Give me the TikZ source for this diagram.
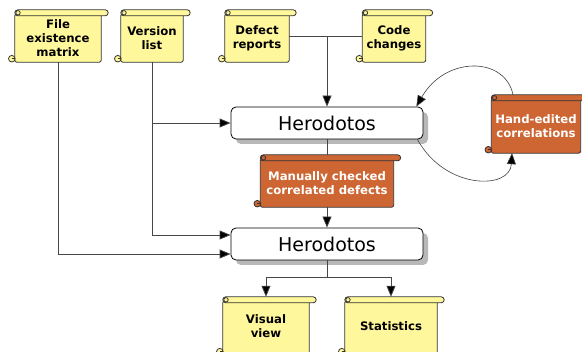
\documentclass[tikz,border=0pt]{standalone}
\usepackage{fontspec}
\setmainfont{DejaVu Sans}
\usetikzlibrary{arrows.meta,shadows,calc}
\definecolor{scrollyellow}{RGB}{255,247,155}
\definecolor{scrollorange}{RGB}{205,102,51}
\definecolor{linegray}{RGB}{70,70,70}
\tikzset{
  lbl/.style={inner sep=0pt, align=center, font=\fontsize{11.7}{13.8}\selectfont\bfseries},
  whitelbl/.style={lbl, text=white},
  scrollline/.style={draw=black!80, line width=0.8pt},
  herobox/.style={draw=black, line width=0.8pt, fill=white, rounded corners=5pt,
    minimum width=192pt, minimum height=32pt, inner sep=0pt,
    font=\fontsize{19}{21}\selectfont,
    general shadow={fill=black!28, shadow xshift=5pt, shadow yshift=-5pt}},
  conn/.style={draw=linegray, line width=0.8pt},
  arr/.style={conn, -{Triangle[length=11pt,width=9pt,fill=black]}},
}
\newcommand\scrolldeco[2]{%
  \draw[scrollline, fill=#2, rounded corners=2pt]
    ([yshift=-4pt]#1.north west) rectangle (#1.south east);
  \draw[scrollline, fill=#2, rounded corners=3pt]
    (#1.north west) rectangle ([xshift=7pt,yshift=-6pt]#1.north east);
  \draw[scrollline, fill=#2] ([xshift=3.2pt,yshift=-3pt]#1.north west) circle (2.2pt);
  \draw[scrollline, fill=#2] ([xshift=-3pt,yshift=3.5pt]#1.south west) circle (3.3pt);
  \draw[scrollline] ([xshift=-3pt,yshift=3.5pt]#1.south west) -- ([xshift=0.5pt,yshift=3.5pt]#1.south west);
}
\begin{document}
\begin{tikzpicture}[x=1pt,y=-1pt]
\useasboundingbox (0,0) rectangle (582,352);
% scroll nodes (text only, shapes drawn by \scrolldeco)
\node[lbl, minimum width=86pt, minimum height=52pt] (fem) at (58,36) {};
\node[lbl, minimum width=62pt, minimum height=52pt] (vl) at (152,36) {};
\node[lbl, minimum width=64pt, minimum height=52pt] (dr) at (257,36) {};
\node[lbl, minimum width=63pt, minimum height=52pt] (cc) at (394,36) {};
\node[lbl, minimum width=133pt, minimum height=52pt] (mcd) at (327,181) {};
\node[lbl, minimum width=89pt, minimum height=58pt] (he) at (536,124) {};
\node[lbl, minimum width=86pt, minimum height=58pt] (vv) at (266,326) {};
\node[lbl, minimum width=92pt, minimum height=58pt] (st) at (391,326) {};
\scrolldeco{fem}{scrollyellow}
\scrolldeco{vl}{scrollyellow}
\scrolldeco{dr}{scrollyellow}
\scrolldeco{cc}{scrollyellow}
\scrolldeco{mcd}{scrollorange}
\scrolldeco{he}{scrollorange}
\scrolldeco{vv}{scrollyellow}
\scrolldeco{st}{scrollyellow}
\node[lbl] at ([yshift=-2pt]fem.center) {File\\existence\\matrix};
\node[lbl] at ([yshift=-2pt]vl.center) {Version\\list};
\node[lbl] at ([yshift=-2pt]dr.center) {Defect\\reports};
\node[lbl] at ([yshift=-2pt]cc.center) {Code\\changes};
\node[whitelbl] at ([yshift=-2pt]mcd.center) {Manually checked\\correlated defects};
\node[whitelbl] at ([yshift=-2pt]he.center) {Hand-edited\\correlations};
\node[lbl] at ([yshift=0pt]vv.center) {Visual\\view};
\node[lbl] at ([yshift=0pt]st.center) {Statistics};
% Herodotos boxes
\node[herobox] (h1) at (327,123) {Herodotos};
\node[herobox] (h2) at (327,244) {Herodotos};
% junction coordinates
\coordinate (j1) at (h1.north |- dr.east);
\coordinate (j2) at ($(h2.south)+(0,17)$);
\coordinate (h2a) at ([yshift=9pt]h2.west);
\coordinate (h2b) at ([yshift=-10pt]h2.west);
% connectors
\draw[conn] (dr.east) -- (cc.west);
\draw[arr] (j1) -- (h1.north);
\draw[conn] (h1.south) -- (mcd.north);
\draw[arr] (mcd.south) -- (h2.north);
\draw[arr] (vl.south) |- (h2a);
\draw[arr] (vl.south |- h1.west) -- (h1.west);
\draw[arr] (fem.south) |- (h2b);
\draw[conn] (h2.south) -- (j2);
\draw[arr] (j2) -| (vv.north);
\draw[arr] (j2) -| (st.north);
\draw[arr, draw=black!75, line width=0.6pt] ([xshift=-6pt]h1.south east) .. controls (445,190) and (510,190) .. ([xshift=-24pt]he.south);
\draw[arr, draw=black!75, line width=0.6pt] ([xshift=-23pt]he.north) .. controls (505,56) and (445,56) .. ([xshift=-7pt]h1.north east);
\end{tikzpicture}
\end{document}
